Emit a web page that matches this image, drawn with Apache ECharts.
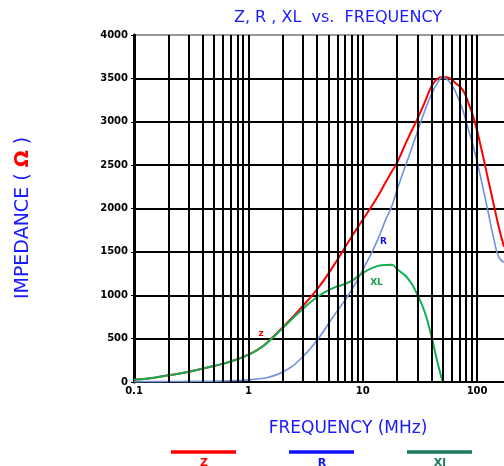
<!DOCTYPE html>
<html>
<head>
<meta charset="utf-8">
<script src="https://cdn.jsdelivr.net/npm/echarts@6/dist/echarts.min.js"></script>
<style>
  html, body { margin: 0; padding: 0; background: #fff; }
  #chart { width: 504px; height: 466px; }
</style>
</head>
<body>
<div id="chart"></div>
<script>
// frequency points (MHz) shared by all three curves
var freqs = [0.1, 0.15, 0.2, 0.3, 0.5, 0.7, 1, 1.3, 1.5, 2, 2.8, 4, 5.5, 7.7, 10, 13, 16, 18, 20, 25, 30, 35, 40, 45, 50, 57, 65, 75, 85, 95, 110, 125, 140, 155, 172];
var zValues = [25, 50, 78, 117, 185, 236, 315, 400, 470, 632, 835, 1070, 1330, 1640, 1870, 2100, 2310, 2430, 2530, 2815, 3030, 3230, 3410, 3495, 3516, 3505, 3445, 3366, 3198, 3010, 2665, 2336, 2043, 1785, 1560];
var rValues = [3, 4, 5, 7, 10, 15, 25, 40, 55, 115, 254, 484, 750, 1026, 1291, 1590, 1880, 2030, 2220, 2580, 2880, 3130, 3320, 3445, 3510, 3465, 3340, 3135, 2887, 2663, 2300, 1960, 1651, 1440, 1380];
var xlValues = [25, 50, 78, 117, 185, 236, 312, 400, 465, 622, 807, 980, 1083, 1153, 1256, 1330, 1350, 1352, 1300, 1190, 1010, 800, 520, 230, 0, null, null, null, null, null, null, null, null, null, null];

var xTicks = [0.1, 1, 10, 100];
var yTicks = [0, 500, 1000, 1500, 2000, 2500, 3000, 3500, 4000];
var seriesNames = ['Z', 'R', 'XL'];
var legendNames = ['Z', 'R', 'Xl'];
var seriesColors = ['#ff0000', '#7090e0', '#10b050'];
var legendColors = ['#ff0000', '#1010ff', '#1a7a55'];
var tagColors = ['#ff0000', '#1010ff', '#10a050'];
// little tags drawn next to each curve: [freq, ohms, text]
var curveTags = [[1.29, 553, 'z'], [15.2, 1614, 'R'], [13.2, 1141, 'XL']];

// vertical grid lines at 1..9 of each decade
var gridFreqs = [];
[0.1, 1, 10, 100].forEach(function (d) {
  for (var k = 1; k <= 9; k++) {
    var v = +(d * k).toPrecision(3);
    if (v > 0.1 && v <= 172) gridFreqs.push(v);
  }
});

function zip(vals) {
  return freqs.map(function (f, i) { return [f, vals[i]]; });
}

var chart = echarts.init(document.getElementById('chart'));

var valueSets = [zValues, rValues, xlValues];
var series = [{
  type: 'line',
  data: [],
  silent: true,
  z: 1,
  markLine: {
    silent: true,
    symbol: 'none',
    animation: false,
    label: { show: false },
    lineStyle: { color: '#000', width: 2, type: 'solid' },
    data: gridFreqs.map(function (v) { return { xAxis: v }; })
  }
}];
valueSets.forEach(function (vals, i) {
  var tag = curveTags[i];
  series.push({
    name: seriesNames[i],
    type: 'line',
    data: zip(vals),
    showSymbol: false,
    smooth: 0.5,
    z: 3,
    lineStyle: { color: seriesColors[i], width: i === 1 ? 1.6 : 2 },
    markPoint: {
      symbol: 'rect',
      symbolSize: 0,
      silent: true,
      animation: false,
      label: {
        show: true,
        formatter: tag[2],
        color: tagColors[i],
        fontSize: 9,
        fontWeight: 'bold',
        fontFamily: 'DejaVu Sans'
      },
      data: [{ coord: [tag[0], tag[1]] }]
    }
  });
});

var legendGraphics = [];
[171, 289, 407].forEach(function (x, i) {
  legendGraphics.push({
    type: 'line',
    shape: { x1: x, y1: 452, x2: x + 65, y2: 452 },
    style: { stroke: legendColors[i], lineWidth: 3.5 }
  });
  legendGraphics.push({
    type: 'text',
    x: x + 33,
    y: 458,
    style: {
      text: legendNames[i],
      fill: legendColors[i],
      font: 'bold 11px "DejaVu Sans"',
      textAlign: 'center',
      textVerticalAlign: 'top'
    }
  });
});

chart.setOption({
  animation: false,
  backgroundColor: '#fff',
  title: {
    text: 'Z, R , XL  vs.  FREQUENCY',
    left: 333,
    textAlign: 'center',
    top: 5,
    textStyle: { color: '#1a1aff', fontSize: 16, fontWeight: 'normal', fontFamily: 'DejaVu Sans' }
  },
  grid: { left: 134, top: 35, right: 0, bottom: 84 },
  xAxis: {
    type: 'log',
    logBase: 10,
    min: 0.1,
    max: 172,
    name: 'FREQUENCY (MHz)',
    nameLocation: 'middle',
    nameGap: 38,
    nameTextStyle: { color: '#1a1aff', fontSize: 17, fontFamily: 'DejaVu Sans', padding: [0, 0, 0, 58] },
    axisLine: { lineStyle: { color: '#000', width: 2 } },
    axisTick: { show: false },
    splitLine: { show: false },
    axisLabel: {
      color: '#000',
      fontSize: 10,
      fontWeight: 'bold',
      fontFamily: 'DejaVu Sans',
      margin: 4,
      showMaxLabel: false,
      formatter: function (v) {
        return xTicks.indexOf(+v.toPrecision(3)) >= 0 ? String(+v.toPrecision(3)) : '';
      }
    }
  },
  yAxis: {
    type: 'value',
    min: 0,
    max: 4000,
    interval: 500,
    axisLine: { show: true, lineStyle: { color: '#000', width: 3 } },
    axisTick: { show: true, length: 3, lineStyle: { color: '#000' } },
    splitLine: { show: true, lineStyle: { color: ['#000', '#000', '#000', '#000', '#000', '#000', '#000', '#000', '#999'], width: 2 } },
    axisLabel: {
      color: '#000',
      fontSize: 10,
      fontWeight: 'bold',
      fontFamily: 'DejaVu Sans',
      margin: 6,
      formatter: function (v) { return yTicks.indexOf(v) >= 0 ? String(v) : ''; }
    }
  },
  graphic: [{
    type: 'text',
    x: 23,
    y: 218,
    rotation: Math.PI / 2,
    style: {
      text: '{b|IMPEDANCE ( }{r|Ω}{b| )}',
      textAlign: 'center',
      textVerticalAlign: 'middle',
      rich: {
        b: { fill: '#1a1aff', fontSize: 19, fontFamily: 'DejaVu Sans' },
        r: { fill: '#ff0000', fontSize: 20, fontWeight: 'bold', fontFamily: 'DejaVu Sans' }
      }
    }
  }].concat(legendGraphics),
  series: series
});
</script>
</body>
</html>
